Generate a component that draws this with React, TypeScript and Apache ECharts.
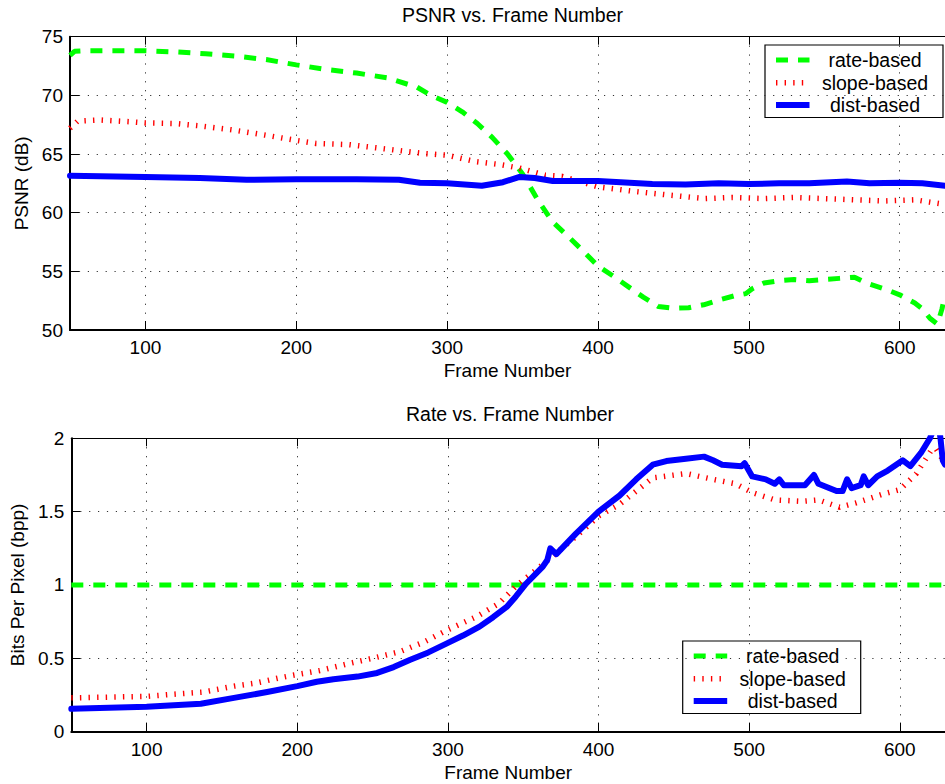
import React, { useEffect, useRef } from 'react';
import * as echarts from 'echarts';

// ---------- Data ----------
const psnrRateFrames = [50, 53, 60, 80, 100, 120, 140, 160, 180, 200, 220, 240, 260, 280, 290, 300, 310, 320, 330, 340, 350, 360, 370, 380, 390, 400, 410, 420, 430, 440, 450, 460, 470, 480, 490, 498, 502, 510, 520, 530, 540, 550, 560, 570, 578, 590, 600, 610, 615, 620, 625, 628, 630];
const psnrRateValues = [73.4, 73.75, 73.8, 73.8, 73.8, 73.7, 73.55, 73.35, 73.05, 72.6, 72.2, 71.9, 71.5, 70.7, 69.95, 69.4, 68.6, 67.6, 66.4, 65.0, 63.3, 61.1, 59.2, 58.0, 56.75, 55.45, 54.6, 53.7, 52.8, 52.0, 51.85, 51.9, 52.15, 52.55, 52.9, 53.1, 53.5, 54.0, 54.2, 54.3, 54.2, 54.3, 54.4, 54.5, 54.0, 53.5, 53.0, 52.3, 51.8, 51.0, 50.5, 51.8, 53.0];

const psnrSlopeFrames = [50, 55, 70, 90, 100, 120, 136, 158, 180, 198, 213, 235, 268, 284, 300, 319, 335, 348, 365, 376, 400, 425, 447, 471, 489, 510, 530, 550, 570, 590, 610, 620, 630];
const psnrSlopeValues = [67.2, 67.8, 67.9, 67.75, 67.65, 67.6, 67.4, 67.05, 66.6, 66.2, 65.9, 65.8, 65.3, 65.05, 64.9, 64.35, 64.1, 63.8, 63.2, 63.1, 62.2, 61.8, 61.5, 61.2, 61.3, 61.2, 61.3, 61.2, 61.1, 61.0, 61.1, 60.9, 60.7];

const psnrDistFrames = [50, 100, 136, 167, 200, 240, 268, 282, 300, 323, 337, 348, 358, 370, 400, 436, 458, 480, 500, 520, 540, 565, 580, 600, 615, 630];
const psnrDistValues = [63.15, 63.05, 62.95, 62.8, 62.85, 62.85, 62.8, 62.55, 62.5, 62.3, 62.6, 63.05, 62.95, 62.7, 62.7, 62.45, 62.4, 62.5, 62.45, 62.5, 62.5, 62.65, 62.5, 62.55, 62.5, 62.3];

const bppRateFrames = [50, 630];
const bppRateValues = [1, 1];

const bppSlopeFrames = [50, 100, 118, 138, 158, 172, 187, 198, 215, 235, 250, 268, 284, 299, 319, 334, 345, 357, 370, 385, 400, 414, 436, 458, 476, 491, 502, 517, 535, 546, 560, 571, 589, 600, 611, 621, 624, 630];
const bppSlopeValues = [0.23, 0.24, 0.255, 0.27, 0.31, 0.33, 0.364, 0.386, 0.416, 0.466, 0.5, 0.545, 0.61, 0.69, 0.784, 0.875, 0.99, 1.09, 1.2, 1.33, 1.47, 1.55, 1.73, 1.76, 1.72, 1.69, 1.63, 1.58, 1.57, 1.58, 1.53, 1.56, 1.62, 1.65, 1.76, 1.92, 1.93, 1.83];

const bppDistFrames = [50, 100, 136, 158, 180, 200, 213, 224, 240, 253, 264, 275, 287, 299, 310, 321, 330, 339, 345, 352, 363, 366, 368, 372, 385, 400, 414, 425, 436, 445, 458, 470, 476, 482, 495, 497, 502, 511, 517, 520, 523, 537, 543, 546, 558, 562, 565, 568, 574, 576, 579, 585, 592, 602, 607, 614, 620, 622, 625, 627, 628.5, 630];
const bppDistValues = [0.155, 0.17, 0.19, 0.23, 0.27, 0.31, 0.34, 0.357, 0.375, 0.4, 0.44, 0.49, 0.54, 0.6, 0.655, 0.716, 0.78, 0.85, 0.92, 1.01, 1.125, 1.17, 1.25, 1.21, 1.35, 1.5, 1.61, 1.72, 1.82, 1.845, 1.86, 1.875, 1.85, 1.82, 1.81, 1.83, 1.74, 1.72, 1.69, 1.72, 1.68, 1.68, 1.75, 1.69, 1.64, 1.64, 1.72, 1.66, 1.68, 1.74, 1.68, 1.74, 1.78, 1.85, 1.81, 1.9, 2.0, 2.05, 2.15, 2.0, 1.85, 1.82];

const seriesNames = ['rate-based', 'slope-based', 'dist-based'];
const titles = ['PSNR vs. Frame Number', 'Rate vs. Frame Number'];
const xAxisTitle = 'Frame Number';
const yAxisTitles = ['PSNR (dB)', 'Bits Per Pixel (bpp)'];

// ---------- Styling ----------
const FONT = 'Liberation Sans';
const GREEN = '#00ff00';
const RED = '#ff0000';
const BLUE = '#0000ff';
const greenStyle = { color: GREEN, width: 5, type: [12, 10], cap: 'butt' };
const redStyle = { color: RED, width: 5.5, type: [1.4, 7.2], cap: 'butt' };
const blueStyle = { color: BLUE, width: 6, type: 'solid', cap: 'round', join: 'round' };

const pairs = (xs: number[], ys: number[]) => xs.map((x, i) => [x, ys[i]]);

const GRID_LEFT = 70;
const GRID_W = 877;
const GRID_H = 293.3;
const GRID_TOPS = [36.7, 438.3];

function legendGroup(x: number, y: number) {
  const w = 178;
  const h = 72.5;
  const rows = [y + 15, y + 37.7, y + 60];
  const styles = [greenStyle, redStyle, blueStyle];
  const children: any[] = [
    { type: 'rect', shape: { x, y, width: w, height: h }, style: { fill: '#fff', stroke: '#000', lineWidth: 1.2 } },
  ];
  rows.forEach((ry, i) => {
    const s: any = styles[i];
    children.push({
      type: 'line',
      shape: { x1: x + 11, y1: ry, x2: x + 44.5, y2: ry },
      style: {
        stroke: s.color,
        lineWidth: s.width,
        lineDash: Array.isArray(s.type) ? s.type : null,
        lineCap: 'butt',
      },
    });
    children.push({
      type: 'text',
      x: x + 110,
      y: ry,
      style: { text: seriesNames[i], fill: '#000', fontSize: 19.5, fontFamily: FONT, align: 'center', verticalAlign: 'middle' },
    });
  });
  return { type: 'group', children };
}

export default function App() {
  const ref = useRef<HTMLDivElement>(null);
  useEffect(() => {
    if (!ref.current) return;
    const chart = echarts.init(ref.current, undefined, { renderer: 'svg' });

    const bottomAxis = (gridIndex: number) => ({
      type: 'value',
      gridIndex,
      position: 'bottom',
      min: 50,
      max: 630,
      name: xAxisTitle,
      nameLocation: 'middle',
      nameGap: 31,
      nameTextStyle: { fontSize: 19, fontFamily: FONT, color: '#000' },
      axisLine: { show: true, onZero: false, lineStyle: { color: '#000', width: 2 } },
      axisTick: { show: true, inside: true, length: 9, lineStyle: { color: '#000', width: 1 } },
      axisLabel: { show: true, showMinLabel: false, showMaxLabel: false, margin: 8, fontSize: 19, fontFamily: FONT, color: '#000' },
      splitLine: { show: true, lineStyle: { color: '#333', width: 1, type: [1.2, 7.7] } },
    });
    const topAxis = (gridIndex: number) => ({
      type: 'value',
      gridIndex,
      position: 'top',
      min: 50,
      max: 630,
      axisLine: { show: true, onZero: false, lineStyle: { color: '#000', width: 1.2 } },
      axisTick: { show: true, inside: true, length: 8, lineStyle: { color: '#000', width: 1 } },
      axisLabel: { show: false },
      splitLine: { show: false },
    });
    const leftAxis = (gridIndex: number, min: number, max: number, interval: number, name: string, gap: number) => ({
      type: 'value',
      gridIndex,
      min,
      max,
      interval,
      name,
      nameLocation: 'middle',
      nameGap: gap,
      nameTextStyle: { fontSize: 19, fontFamily: FONT, color: '#000' },
      axisLine: { show: true, onZero: false, lineStyle: { color: '#000', width: 2 } },
      axisTick: { show: true, inside: true, length: 9, lineStyle: { color: '#000', width: 1 } },
      axisLabel: { show: true, margin: 7, fontSize: 19, fontFamily: FONT, color: '#000' },
      splitLine: { show: true, lineStyle: { color: '#333', width: 1, type: [1.2, 7.7] } },
    });

    const line = (name: string, xAxisIndex: number, yAxisIndex: number, data: number[][], lineStyle: any, z: number) => ({
      type: 'line',
      name,
      xAxisIndex,
      yAxisIndex,
      data,
      showSymbol: false,
      symbol: 'none',
      clip: true,
      z,
      lineStyle,
    });

    chart.setOption({
      animation: false,
      backgroundColor: '#fff',
      textStyle: { fontFamily: FONT },
      grid: GRID_TOPS.map((top) => ({ left: GRID_LEFT, top, width: GRID_W, height: GRID_H, containLabel: false })),
      xAxis: [bottomAxis(0), topAxis(0), bottomAxis(1), topAxis(1)],
      yAxis: [
        leftAxis(0, 50, 75, 5, yAxisTitles[0], 38),
        leftAxis(1, 0, 2, 0.5, yAxisTitles[1], 43),
      ],
      series: [
        line(seriesNames[0], 0, 0, pairs(psnrRateFrames, psnrRateValues), greenStyle, 2),
        line(seriesNames[1], 0, 0, pairs(psnrSlopeFrames, psnrSlopeValues), redStyle, 3),
        line(seriesNames[2], 0, 0, pairs(psnrDistFrames, psnrDistValues), blueStyle, 4),
        line(seriesNames[0], 2, 1, pairs(bppRateFrames, bppRateValues), greenStyle, 2),
        line(seriesNames[1], 2, 1, pairs(bppSlopeFrames, bppSlopeValues), redStyle, 3),
        line(seriesNames[2], 2, 1, pairs(bppDistFrames, bppDistValues), blueStyle, 4),
      ],
      graphic: [
        {
          type: 'text',
          x: 512.5,
          y: 14.5,
          style: { text: titles[0], fill: '#000', fontSize: 19.5, fontFamily: FONT, align: 'center', verticalAlign: 'middle' },
        },
        {
          type: 'text',
          x: 510,
          y: 414,
          style: { text: titles[1], fill: '#000', fontSize: 19.5, fontFamily: FONT, align: 'center', verticalAlign: 'middle' },
        },
        { ...legendGroup(765, 45), z: 100 },
        { ...legendGroup(682.7, 641), z: 100 },
      ],
    });
    return () => chart.dispose();
  }, []);

  return <div ref={ref} style={{ position: 'fixed', left: 0, top: 0, width: 945, height: 784, background: '#fff' }} />;
}
